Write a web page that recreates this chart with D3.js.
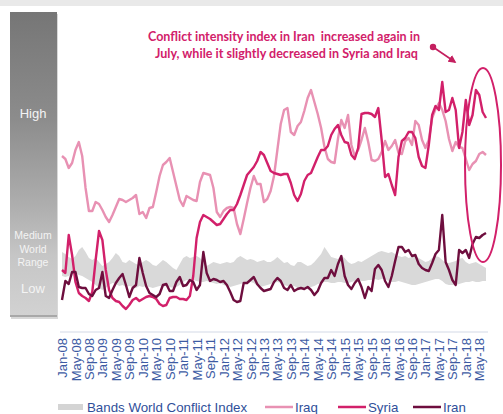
<!DOCTYPE html>
<html><head><meta charset="utf-8">
<script src="https://cdn.jsdelivr.net/npm/d3@7/dist/d3.min.js"></script>
<style>body{margin:0;background:#fff;}svg{display:block;}</style>
</head><body>
<svg id="c" width="503" height="414"></svg>
<script>
// ---- DATA (index units, Jan-08 .. Jul-18, monthly) ----
const tickLabels = ["Jan-08","May-08","Sep-08","Jan-09","May-09","Sep-09","Jan-10","May-10","Sep-10","Jan-11","May-11","Sep-11","Jan-12","May-12","Sep-12","Jan-13","May-13","Sep-13","Jan-14","May-14","Sep-14","Jan-15","May-15","Sep-15","Jan-16","May-16","Sep-16","Jan-17","May-17","Sep-17","Jan-18","May-18"];
const iraq = [164,161,152,157,170,178,164,132,109,109,118,116,110,103,98,105,113,121,120,118,120,122,125,106,108,102,112,113,128,144,155,158,162,148,134,120,114,124,122,120,119,138,147,146,145,132,108,103,109,112,113,112,96,86,101,117,132,144,136,136,118,121,129,144,170,196,210,212,188,185,194,198,209,222,230,218,206,192,173,161,158,157,181,200,192,205,175,164,170,180,192,178,160,159,161,168,179,170,174,180,167,166,179,182,175,199,195,180,172,180,202,211,217,210,199,181,169,178,173,172,161,150,156,159,166,168,165];
const syria = [50,47,85,65,38,27,24,22,19,28,60,89,80,50,30,22,19,18,14,11,15,20,22,19,21,23,24,23,21,16,14,15,22,23,23,21,21,20,24,44,82,98,105,103,101,98,95,96,101,106,110,110,116,125,135,145,149,153,159,168,165,157,149,147,146,145,146,146,137,125,119,126,139,145,147,155,163,170,170,174,185,191,195,185,178,177,165,161,172,206,207,207,206,203,212,180,143,146,135,125,163,179,182,188,188,182,163,154,152,175,205,214,210,238,208,210,222,210,172,188,220,195,205,230,225,208,202];
const iran = [20,39,36,48,48,33,32,32,26,24,30,32,48,24,22,30,37,42,46,35,23,32,35,62,47,34,27,25,23,26,35,36,29,29,38,43,34,35,40,38,30,35,68,47,39,41,40,38,39,35,28,20,18,19,37,37,40,43,36,32,29,30,31,38,42,39,32,30,35,29,31,32,31,33,30,25,29,37,42,42,50,44,56,64,44,35,31,37,41,33,22,33,29,51,55,50,39,33,44,59,73,73,68,70,64,65,56,52,50,49,57,66,70,105,58,50,40,35,70,67,70,62,76,83,82,85,87];
const bandHigh = [68,66,63,61,64,70,73,68,62,60,62,58,54,56,58,62,67,64,58,57,60,58,56,55,58,60,58,55,54,57,60,58,55,52,50,56,62,64,62,63,64,62,58,54,56,58,57,56,57,58,57,58,62,64,62,60,61,60,58,59,60,58,58,60,63,60,57,58,55,54,58,58,56,54,55,58,62,66,73,68,63,62,61,64,62,58,56,57,59,58,60,62,64,66,68,69,68,67,68,66,64,63,64,62,63,64,62,60,58,59,62,64,63,60,57,57,58,59,61,62,58,56,57,58,56,54,52];
const bandLow = [44,43,44,46,47,45,44,42,40,38,35,32,30,32,35,37,36,34,35,33,34,33,32,34,33,34,33,32,33,34,33,34,33,32,33,35,38,40,39,40,39,38,38,39,38,37,36,37,35,34,33,34,35,36,37,37,38,37,34,33,34,35,36,37,38,37,35,34,33,34,32,32,31,32,33,34,36,37,38,38,37,37,38,38,37,37,38,39,40,39,39,40,40,41,40,41,41,39,38,38,39,38,37,36,35,35,36,37,38,39,40,41,41,39,36,35,35,35,36,37,38,38,39,38,38,39,39];
const seriesNames = ["Iraq","Syria","Iran"];
const seriesColors = ["#e891b3","#d2206a","#6e0e3e"];
const annotation = ["Conflict intensity index in Iran\u00a0 increased again in","July, while it slightly decreased in Syria and Iraq"];

const svg = d3.select("#c");
const defs = svg.append("defs");

// top strip
svg.append("rect").attr("x",0).attr("y",0).attr("width",503).attr("height",6).attr("fill","#e9e9e9");

// gradient side bar
const g1 = defs.append("linearGradient").attr("id","gb").attr("x1",0).attr("y1",0).attr("x2",0).attr("y2",1);
[[0,"#767676"],[0.35,"#8c8c8c"],[0.65,"#b0b0b0"],[0.8,"#c6c6c6"],[1,"#d2d2d2"]].forEach(s=>g1.append("stop").attr("offset",s[0]).attr("stop-color",s[1]));
svg.append("rect").attr("x",11).attr("y",14).attr("width",47).attr("height",305).attr("fill","#d8d8d8");
svg.append("rect").attr("x",10).attr("y",12).attr("width",47).attr("height",305).attr("fill","url(#gb)");
svg.append("rect").attr("x",10).attr("y",315).attr("width",47).attr("height",2).attr("fill","#a8a8a8");
const bt = svg.append("g").attr("fill","#f4f4f4").attr("font-family","Arial, Liberation Sans, sans-serif").attr("text-anchor","middle");
bt.append("text").attr("x",33).attr("y",118).attr("font-size",13).text("High");
bt.append("text").attr("x",33).attr("y",239).attr("font-size",10.5).text("Medium");
bt.append("text").attr("x",33).attr("y",253).attr("font-size",10.5).text("World");
bt.append("text").attr("x",33).attr("y",266).attr("font-size",10.5).text("Range");
bt.append("text").attr("x",33).attr("y",293).attr("font-size",13).text("Low");

// scales
const n = iraq.length;
const x = d3.scaleLinear().domain([0, n-1]).range([62, 486]);
const y = d3.scaleLinear().domain([0, 300]).range([320, 20]);

// band
const area = d3.area().x((d,i)=>x(i)).y0((d,i)=>y(bandLow[i])).y1(d=>y(d));
svg.append("path").datum(bandHigh).attr("d",area).attr("fill","#d9d9d9");

// lines
const line = d3.line().x((d,i)=>x(i)).y(d=>y(d));
[iraq, syria, iran].forEach((s,k)=>{
  svg.append("path").datum(s).attr("d",line).attr("fill","none")
    .attr("stroke",seriesColors[k]).attr("stroke-width",2.4).attr("stroke-linejoin","round");
});

// x axis
const axis = d3.axisBottom(x).tickValues(tickLabels.map((d,i)=>i*4)).tickSize(0)
  .tickFormat((d,i)=>tickLabels[i]);
const ax = svg.append("g").attr("transform","translate(0,332)").call(axis);
ax.select(".domain").attr("stroke","#d3d9e6").attr("d","M60,0H488");
ax.selectAll("text").attr("font-family","Arial, Liberation Sans, sans-serif").attr("font-size",13)
  .attr("fill","#3d5ba3").attr("transform","rotate(-90)").attr("text-anchor","end")
  .attr("x",-6).attr("y",0).attr("dy","0.35em");

// annotation
const at = svg.append("g").attr("fill","#d2206a").attr("font-family","Lato, 'Open Sans', sans-serif").attr("font-weight","bold").attr("font-size",12.5);
at.append("text").attr("x",148).attr("y",41).attr("textLength",272).attr("lengthAdjust","spacingAndGlyphs").text(annotation[0]);
at.append("text").attr("x",155).attr("y",58).attr("textLength",263).attr("lengthAdjust","spacingAndGlyphs").text(annotation[1]);
defs.append("marker").attr("id","ah").attr("viewBox","0 0 10 10").attr("refX",8).attr("refY",5)
  .attr("markerWidth",5).attr("markerHeight",5).attr("orient","auto")
  .append("path").attr("d","M0,0L10,5L0,10z").attr("fill","#c41f5f");
svg.append("circle").attr("cx",433).attr("cy",47).attr("r",3.2).attr("fill","#c41f5f");
svg.append("line").attr("x1",433).attr("y1",47).attr("x2",455).attr("y2",62).attr("stroke","#c41f5f").attr("stroke-width",1.6).attr("marker-end","url(#ah)");
svg.append("ellipse").attr("cx",483).attr("cy",165).attr("rx",18).attr("ry",97).attr("fill","none").attr("stroke","#d2206a").attr("stroke-width",2);

// legend
const lg = svg.append("g").attr("font-family","Arial, Liberation Sans, sans-serif").attr("font-size",13.3).attr("fill","#2f4f9a");
lg.append("rect").attr("x",58).attr("y",404).attr("width",25).attr("height",6).attr("fill","#d4d4d4");
lg.append("text").attr("x",87).attr("y",412).text("Bands World Conflict Index");
const lx = [265, 338, 413];
seriesNames.forEach((nm,k)=>{
  lg.append("line").attr("x1",lx[k]).attr("x2",lx[k]+28).attr("y1",407).attr("y2",407).attr("stroke",seriesColors[k]).attr("stroke-width",2.5);
  lg.append("text").attr("x",lx[k]+30).attr("y",412).text(nm);
});
</script>
</body></html>
